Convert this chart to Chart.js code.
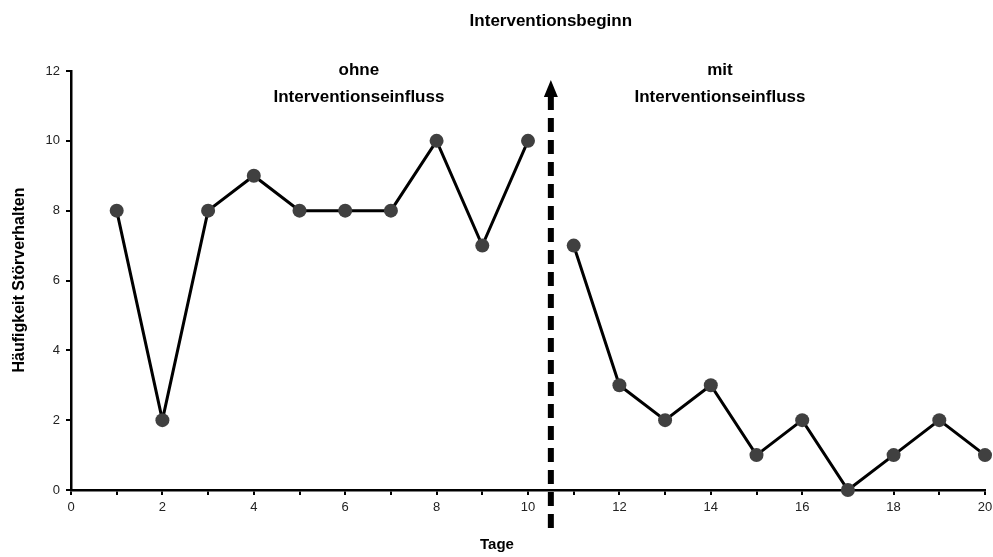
<!DOCTYPE html>
<html><head><meta charset="utf-8">
<script src="https://cdn.jsdelivr.net/npm/chart.js@4/dist/chart.umd.min.js"></script>
<style>html,body{margin:0;padding:0;background:#fff}#wrap{width:993px;height:557px}</style>
</head><body><div id="wrap"><canvas id="c"></canvas></div>
<script>
const daysBefore = [1,2,3,4,5,6,7,8,9,10];
const valuesBefore = [8,2,8,9,8,8,8,10,7,10];
const daysAfter = [11,12,13,14,15,16,17,18,19,20];
const valuesAfter = [7,3,2,3,1,2,0,1,2,1];
const interventionAt = 10.5;
const titleText = 'Interventionsbeginn';
const phaseLabels = [['ohne','Interventionseinfluss'],['mit','Interventionseinfluss']];
const phaseCenters = [6.3, 14.2];
const xTitle = 'Tage';
const yTitle = 'Häufigkeit Störverhalten';

const toPts = (xs, ys) => xs.map((x,i)=>({x, y: ys[i]}));
const ds = (d) => ({data:d, borderColor:'#000', borderWidth:3, pointRadius:7, pointHoverRadius:7,
  pointBackgroundColor:'#404040', pointBorderColor:'#404040', pointBorderWidth:0, tension:0, clip:false});

const overlay = {
  id:'overlay',
  afterDraw(chart){
    const {ctx, scales:{x,y}} = chart;
    ctx.save();
    const px = x.getPixelForValue(interventionAt);
    ctx.strokeStyle = '#000'; ctx.lineWidth = 6; ctx.setLineDash([14,8]);
    ctx.beginPath(); ctx.moveTo(px, 528); ctx.lineTo(px, 96); ctx.stroke();
    ctx.setLineDash([]);
    ctx.fillStyle = '#000';
    ctx.beginPath(); ctx.moveTo(px, 80); ctx.lineTo(px-7, 97); ctx.lineTo(px+7, 97); ctx.closePath(); ctx.fill();
    ctx.textAlign = 'center'; ctx.textBaseline = 'middle';
    ctx.font = 'bold 17px "Liberation Sans", Arial, sans-serif';
    ctx.fillText(titleText, px, 21);
    phaseLabels.forEach((lines, i) => {
      const cx = x.getPixelForValue(phaseCenters[i]);
      ctx.fillText(lines[0], cx, 70);
      ctx.fillText(lines[1], cx, 97);
    });
    ctx.font = 'bold 15px "Liberation Sans", Arial, sans-serif';
    ctx.fillText(xTitle, 497, 545);
    ctx.font = 'bold 16px "Liberation Sans", Arial, sans-serif';
    ctx.translate(20, 280); ctx.rotate(-Math.PI/2);
    ctx.fillText(yTitle, 0, 0);
    ctx.restore();
  }
};

new Chart(document.getElementById('c'), {
  type:'line',
  data:{datasets:[ds(toPts(daysBefore, valuesBefore)), ds(toPts(daysAfter, valuesAfter))]},
  options:{
    responsive:true, maintainAspectRatio:false, animation:false,
    layout:{padding:{top:71, right:8, left:0, bottom:0}},
    plugins:{legend:{display:false}, tooltip:{enabled:false}},
    scales:{
      x:{type:'linear', min:0, max:20,
        afterFit(s){ s.height = 67; s.paddingRight = 0; s.paddingLeft = 0; },
        ticks:{stepSize:1, autoSkip:false, maxRotation:0, color:'#222', padding:5,
          font:{family:'"Liberation Sans", Arial, sans-serif', size:13},
          callback:(v)=> v % 2 === 0 ? String(v) : ''},
        grid:{drawOnChartArea:false, drawTicks:true, tickLength:5, color:'#000', lineWidth:2},
        border:{display:true, color:'#000', width:2.5}
      },
      y:{min:0, max:12,
        afterFit(s){ s.width = 71; },
        ticks:{stepSize:2, color:'#222', padding:6,
          font:{family:'"Liberation Sans", Arial, sans-serif', size:13}},
        grid:{drawOnChartArea:false, drawTicks:true, tickLength:5, color:'#000', lineWidth:2},
        border:{display:true, color:'#000', width:2.5}
      }
    }
  },
  plugins:[overlay]
});
</script></body></html>
